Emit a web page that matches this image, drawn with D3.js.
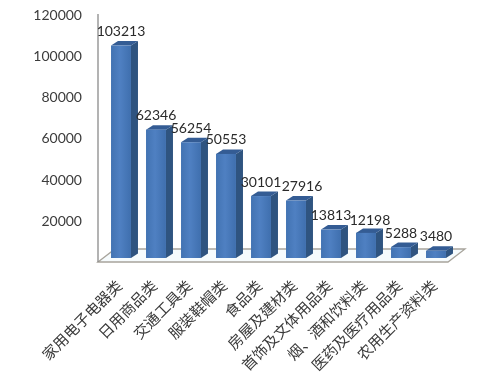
<!DOCTYPE html>
<html>
<head>
<meta charset="utf-8">
<script src="https://cdn.jsdelivr.net/npm/d3@7"></script>
<style>
    html, body { margin: 0; padding: 0; background: #fff; }
    svg { display: block; }
</style>
</head>
<body>
<script>
// Values
const categories = ["家用电子电器类", "日用商品类", "交通工具类", "服装鞋帽类", "食品类", "房屋及建材类", "首饰及文体用品类", "烟、酒和饮料类", "医药及医疗用品类", "农用生产资料类"];
const values = [103213, 62346, 56254, 50553, 30101, 27916, 13813, 12198, 5288, 3480];
const yTicks = [20000, 40000, 60000, 80000, 100000, 120000];

const width = 486;
const height = 381;

// Fake 3D offsets
const depthX = 7;
const depthY = 4.5;
const floorLift = 4;   // bars stand a bit behind the front edge of the floor

const xScale = d3.scaleBand()
    .domain(categories)
    .range([103.5, 453.5])
    .paddingInner(0.43)
    .paddingOuter(0.215);

const yScale = d3.scaleLinear()
    .domain([0, 120000])
    .range([262, 15]);

const svg = d3.select("body").append("svg")
    .attr("width", width)
    .attr("height", height)
    .style("filter", "blur(0.35px)");

// Horizontal gradient on the bar fronts
const grad = svg.append("defs").append("linearGradient").attr("id", "barFront");
grad.append("stop").attr("offset", "0%").attr("stop-color", "#4273b2");
grad.append("stop").attr("offset", "45%").attr("stop-color", "#4f80c2");
grad.append("stop").attr("offset", "100%").attr("stop-color", "#3f6fae");

// Floor
const y0 = yScale(0);
const floorLeft = xScale.range()[0] - 5.5;
const floorRight = xScale.range()[1] - 5.5;
svg.append("path")
    .attr("d", d3.line()([
        [floorLeft, y0],
        [floorLeft + 17, y0 - 13],
        [floorRight + 17, y0 - 13],
        [floorRight, y0]
    ]) + "Z")
    .attr("fill", "#f6fbfd")
    .attr("stroke", "#a8a49c")
    .attr("stroke-width", 1.3);

// Value axis, no zero label and no tick marks
const yAxis = svg.append("g")
    .attr("transform", `translate(${floorLeft}, 0)`)
    .call(d3.axisLeft(yScale).tickValues(yTicks).tickSize(0).tickPadding(16).tickFormat(d3.format("d")));
yAxis.select(".domain")
    .attr("stroke", "#8a8a8a")
    .attr("stroke-width", 1.3)
    .attr("d", `M0,14V${y0}`);
yAxis.selectAll("text")
    .attr("fill", "#3c3c3c")
    .style("font-family", "Lato, sans-serif")
    .style("font-size", "14px");

const barTop = (d) => yScale(d) - floorLift;
const barBottom = y0 - floorLift;

const bars = svg.selectAll(".bar")
    .data(categories.map((c, i) => ({ category: c, value: values[i] })))
    .join("g")
    .attr("class", "bar")
    .attr("transform", (d) => `translate(${xScale(d.category)}, 0)`);

const bw = xScale.bandwidth();

// Side
bars.append("path")
    .attr("fill", "#2f5480")
    .attr("d", (d) => d3.line()([
        [bw, barTop(d.value)],
        [bw + depthX, barTop(d.value) - depthY],
        [bw + depthX, barBottom - depthY],
        [bw, barBottom]
    ]) + "Z");

// Top
bars.append("path")
    .attr("fill", "#345c94")
    .attr("d", (d) => d3.line()([
        [0, barTop(d.value)],
        [depthX, barTop(d.value) - depthY],
        [bw + depthX, barTop(d.value) - depthY],
        [bw, barTop(d.value)]
    ]) + "Z");

// Front
bars.append("rect")
    .attr("fill", "url(#barFront)")
    .attr("y", (d) => barTop(d.value))
    .attr("width", bw)
    .attr("height", (d) => barBottom - barTop(d.value));

// Value labels, two of them were dragged a little in the original
bars.append("text")
    .attr("x", (d) => bw / 2 + (d.value === 27916 ? 6 : d.value === 12198 ? 4 : 0))
    .attr("y", (d) => barTop(d.value) - depthY - (d.value === 12198 ? 3 : 5))
    .attr("text-anchor", "middle")
    .attr("fill", "#2a2a2a")
    .style("font-family", "Lato, sans-serif")
    .style("font-size", "14px")
    .text((d) => d.value);

// Slanted category labels
svg.selectAll(".cat")
    .data(categories)
    .join("text")
    .attr("class", "cat")
    .attr("text-anchor", "end")
    .attr("fill", "#3a3a3a")
    .attr("transform", (d) => `translate(${xScale(d) + xScale.bandwidth() / 2 + 2}, 287) rotate(-45)`)
    .style("font-family", "'Noto Sans CJK SC', sans-serif")
    .style("font-size", "15px")
    .text((d) => d);
</script>
</body>
</html>
